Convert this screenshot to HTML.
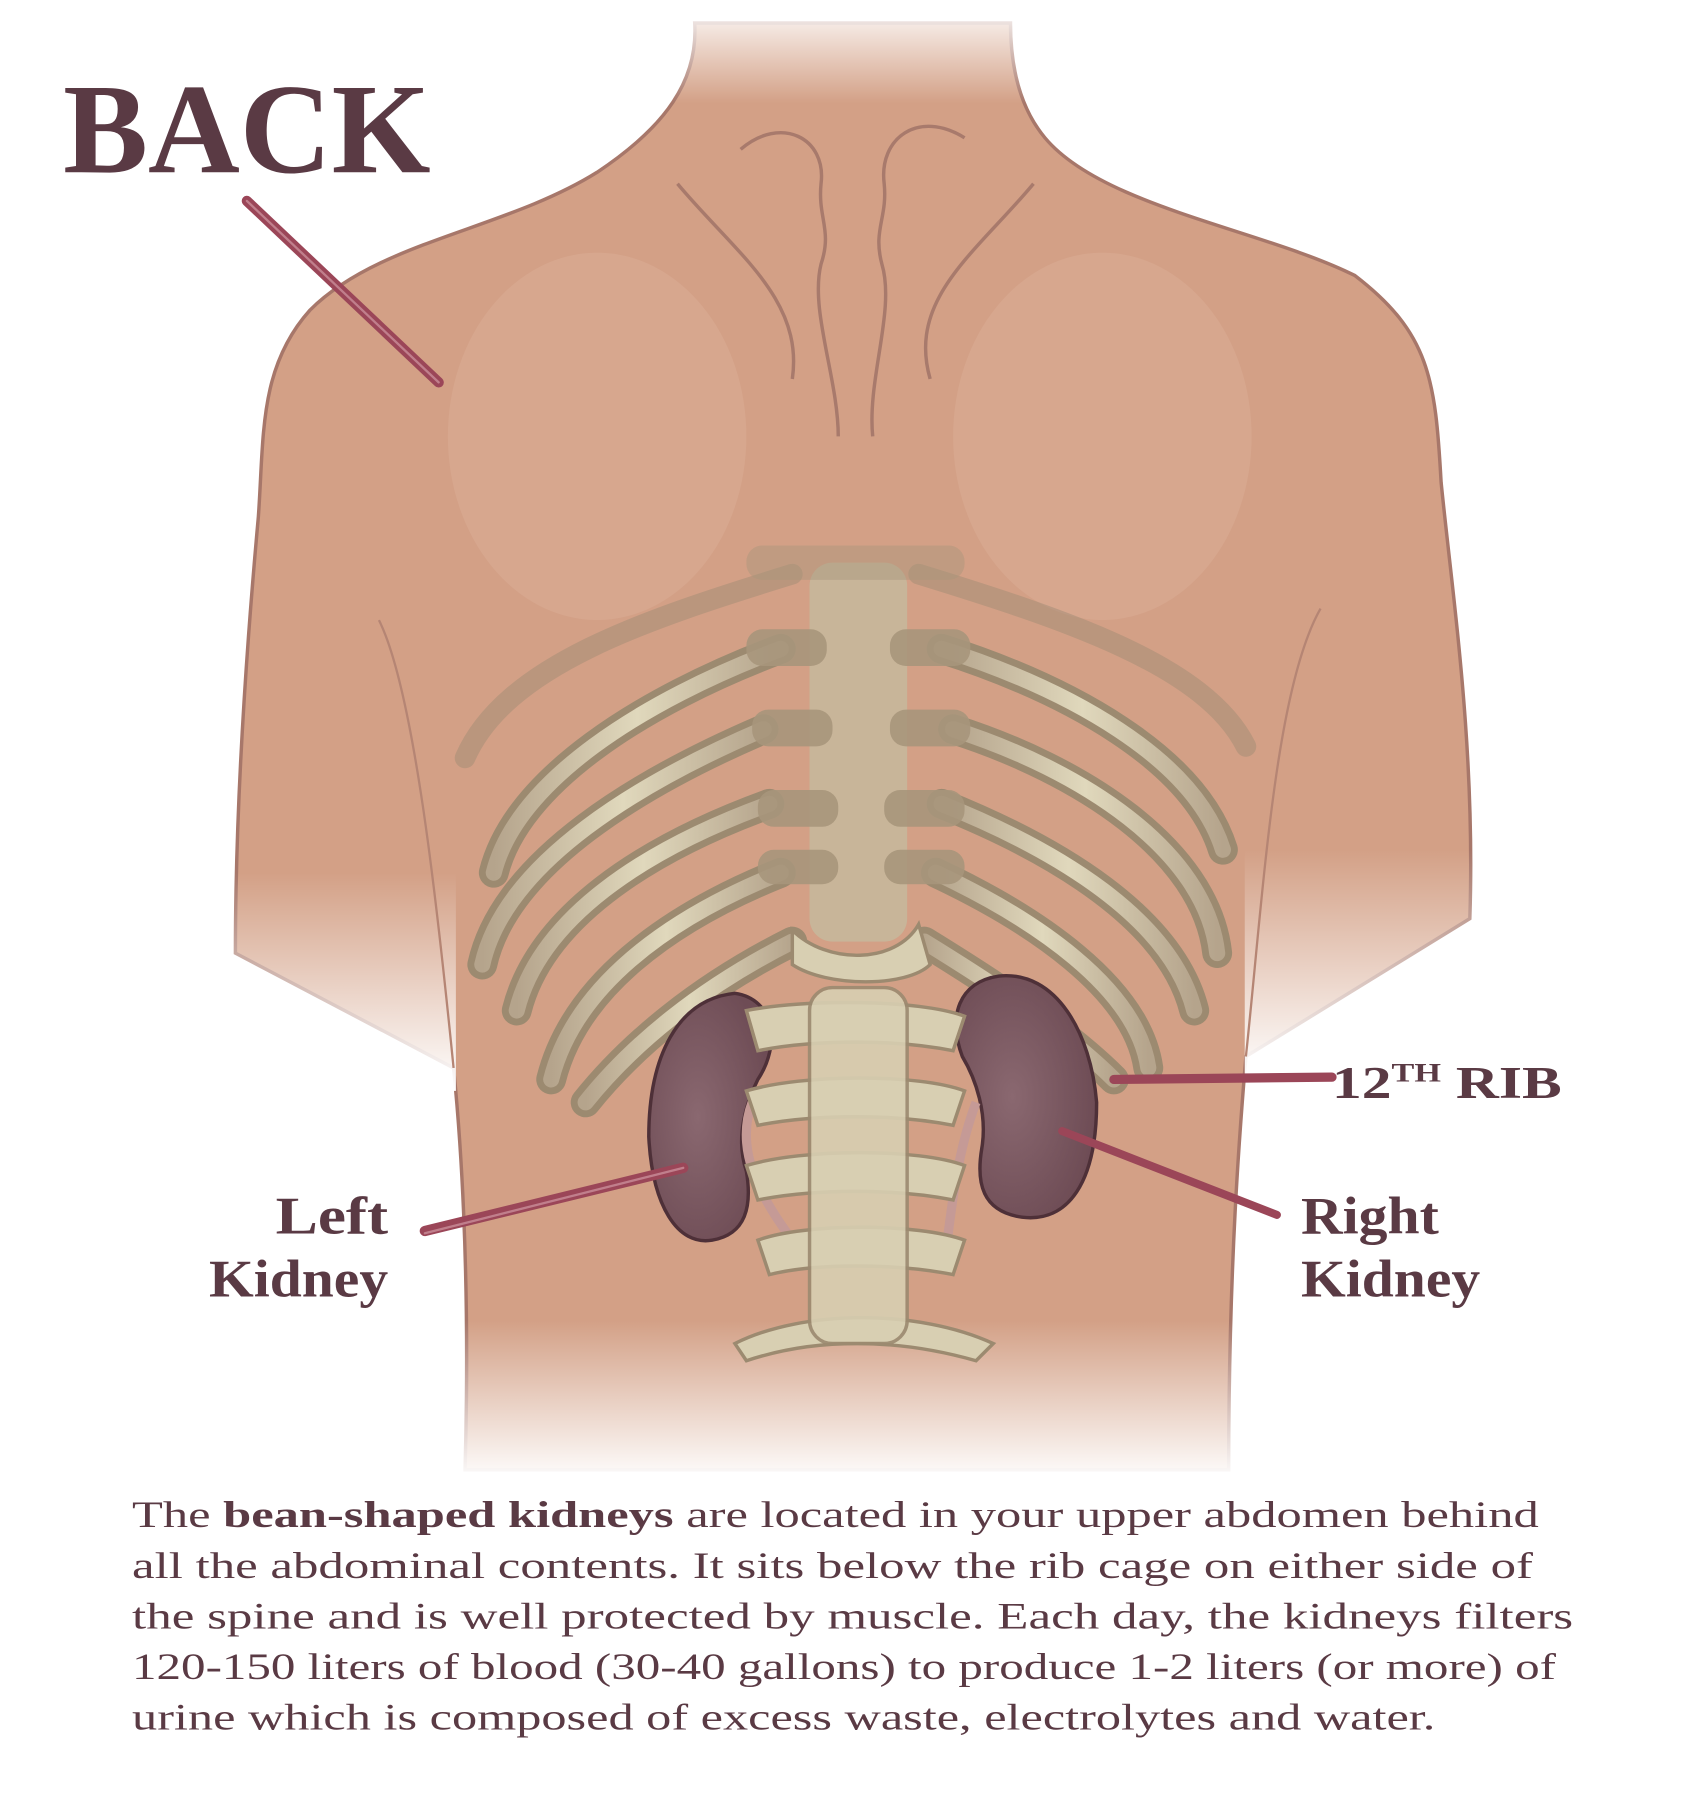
<!DOCTYPE html>
<html><head><meta charset="utf-8"><style>
html,body{margin:0;padding:0;background:#fff}
svg{display:block}
text{font-family:"Liberation Serif","DejaVu Serif",serif;fill:#5a3a44}
</style></head><body>
<svg width="1688" height="1804" viewBox="0 0 1470 1571" xmlns="http://www.w3.org/2000/svg">
<defs>
<linearGradient id="fadeTop" x1="0" y1="0" x2="0" y2="1">
<stop offset="0" stop-color="#fff" stop-opacity="1"/><stop offset="1" stop-color="#fff" stop-opacity="0"/></linearGradient>
<linearGradient id="fadeBot" x1="0" y1="0" x2="0" y2="1">
<stop offset="0" stop-color="#fff" stop-opacity="0"/><stop offset="1" stop-color="#fff" stop-opacity="1"/></linearGradient>
<radialGradient id="kid" cx="0.4" cy="0.5" r="0.6"><stop offset="0" stop-color="#8a6870"/><stop offset="1" stop-color="#6e4c55"/></radialGradient>
<linearGradient id="rib" x1="0" y1="0" x2="1" y2="0"><stop offset="0" stop-color="#b5a48c"/><stop offset="0.5" stop-color="#e0d8bc"/><stop offset="1" stop-color="#b5a48c"/></linearGradient>
</defs>
<path d="M605,20 C608,70 580,110 520,150 C440,200 330,210 270,270 C225,320 230,380 225,450 C215,560 205,700 205,830 L395,930 C400,980 410,1100 405,1280 L1070,1280 C1070,1100 1080,980 1085,920 L1280,800 C1285,650 1265,520 1255,420 C1250,330 1245,290 1180,240 C1100,200 960,180 910,120 C885,90 880,50 880,20 Z" fill="#d3a086" stroke="#a7776a" stroke-width="3"/>
<rect x="195" y="760" width="202" height="190" fill="url(#fadeBot)"/>
<rect x="1084" y="740" width="206" height="200" fill="url(#fadeBot)"/>
<path d="M395,930 C380,780 360,600 330,540" fill="none" stroke="#b58574" stroke-width="2"/>
<path d="M1085,920 C1100,780 1110,600 1150,530" fill="none" stroke="#b58574" stroke-width="2"/>
<ellipse cx="520" cy="380" rx="130" ry="160" fill="#dcae96" opacity="0.5"/>
<ellipse cx="960" cy="380" rx="130" ry="160" fill="#dcae96" opacity="0.5"/>
<g fill="none" stroke="#a87a6c" stroke-width="3">
<path d="M645,130 C680,100 720,120 715,160 C712,190 725,200 715,230 C705,270 730,330 730,380"/>
<path d="M840,120 C800,95 765,120 770,160 C773,190 760,200 768,230 C780,270 755,330 760,380"/>
<path d="M590,160 C640,220 700,260 690,330"/>
<path d="M900,160 C850,220 790,260 810,330"/>
</g>
<rect x="200" y="0" width="1100" height="90" fill="url(#fadeTop)"/>
<rect x="180" y="1150" width="1130" height="140" fill="url(#fadeBot)"/>
<g fill="none" stroke-linecap="round">
<g stroke="#9c8a74" stroke-width="18" opacity="0.45">
<path d="M690,500 C560,540 440,580 405,660"/>
<path d="M800,500 C930,540 1050,580 1085,650"/>
</g>
<g stroke="#9c8a70" stroke-width="26">
<path d="M680,565 C560,610 450,680 430,760"/><path d="M665,635 C560,680 440,750 420,840"/>
<path d="M670,700 C560,740 470,800 450,880"/><path d="M680,760 C580,800 500,860 480,940"/>
<path d="M690,820 C610,860 550,910 510,960"/>
<path d="M820,565 C930,600 1040,660 1065,740"/><path d="M830,635 C940,670 1050,740 1060,830"/>
<path d="M820,700 C920,740 1020,800 1040,880"/><path d="M815,760 C900,800 990,860 1000,930"/>
<path d="M805,820 C870,860 930,900 970,940"/>
</g>
<g stroke="url(#rib)" stroke-width="14">
<path d="M680,565 C560,610 450,680 430,760"/><path d="M665,635 C560,680 440,750 420,840"/>
<path d="M670,700 C560,740 470,800 450,880"/><path d="M680,760 C580,800 500,860 480,940"/>
<path d="M690,820 C610,860 550,910 510,960"/>
<path d="M820,565 C930,600 1040,660 1065,740"/><path d="M830,635 C940,670 1050,740 1060,830"/>
<path d="M820,700 C920,740 1020,800 1040,880"/><path d="M815,760 C900,800 990,860 1000,930"/>
<path d="M805,820 C870,860 930,900 970,940"/>
</g>
</g>
<path d="M640,865 C590,870 565,920 565,990 C568,1050 590,1085 620,1080 C650,1075 655,1050 650,1020 C640,990 650,960 660,940 C680,910 675,870 640,865 Z" fill="url(#kid)" stroke="#4e3038" stroke-width="3"/>
<path d="M870,850 C920,845 950,900 955,960 C955,1030 930,1065 890,1060 C855,1055 850,1030 855,1000 C860,970 850,940 838,920 C825,885 835,855 870,850 Z" fill="url(#kid)" stroke="#4e3038" stroke-width="3"/>
<path d="M655,960 C640,1000 660,1040 690,1080" fill="none" stroke="#c59a96" stroke-width="8"/>
<path d="M850,960 C835,1000 830,1040 825,1080" fill="none" stroke="#c59a96" stroke-width="8"/>
<rect x="705" y="490" width="85" height="330" rx="20" fill="#c6b89c" opacity="0.85"/>
<g fill="#a8967c" opacity="0.9">
<rect x="650" y="548" width="70" height="32" rx="14"/><rect x="775" y="548" width="70" height="32" rx="14"/>
<rect x="655" y="618" width="70" height="32" rx="14"/><rect x="775" y="618" width="70" height="32" rx="14"/>
<rect x="660" y="688" width="70" height="32" rx="14"/><rect x="770" y="688" width="70" height="32" rx="14"/>
<rect x="660" y="740" width="70" height="30" rx="14"/><rect x="770" y="740" width="70" height="30" rx="14"/>
<rect x="650" y="475" width="190" height="30" rx="14" opacity="0.5"/>
</g>
<g fill="#d8cfb2" stroke="#9c8a70" stroke-width="3">
<path d="M690,810 C720,840 780,840 800,805 L810,840 C790,860 720,860 690,840 Z"/>
<path d="M650,880 C700,870 800,870 840,885 L830,915 C780,905 710,905 660,915 Z"/>
<path d="M650,950 C700,935 800,935 840,950 L830,980 C780,970 710,970 660,980 Z"/>
<path d="M650,1015 C700,1000 800,1000 840,1015 L830,1045 C780,1035 710,1035 660,1045 Z"/>
<path d="M660,1080 C700,1065 800,1065 840,1080 L830,1110 C780,1100 710,1100 670,1110 Z"/>
<path d="M640,1170 C700,1140 800,1140 865,1170 L850,1185 C780,1165 710,1165 650,1185 Z"/>
<rect x="705" y="860" width="85" height="310" rx="20" fill="#d8cfb2" opacity="0.9"/>
</g>
<g stroke="#9b4658" fill="none" stroke-linecap="round">
<path d="M215,175 L382,333" stroke-width="9"/><path d="M215,175 L382,333" stroke="#c07f8c" stroke-width="2"/>
<path d="M370,1072 L595,1017" stroke-width="9"/><path d="M370,1074 L595,1017" stroke="#c07f8c" stroke-width="2"/>
<path d="M970,940 L1160,938" stroke-width="8"/>
<path d="M925,985 L1112,1058" stroke-width="7"/>
</g>
<text x="55" y="150" font-size="112" font-weight="bold" textLength="320" lengthAdjust="spacingAndGlyphs">BACK</text>
<text x="1160" y="956" font-size="40" font-weight="bold" textLength="200" lengthAdjust="spacingAndGlyphs">12<tspan font-size="23" dy="-14">TH</tspan><tspan dy="14"> RIB</tspan></text>
<text x="240" y="1074" font-size="46" font-weight="bold" textLength="98" lengthAdjust="spacingAndGlyphs">Left</text>
<text x="182" y="1129" font-size="46" font-weight="bold" textLength="156" lengthAdjust="spacingAndGlyphs">Kidney</text>
<text x="1133" y="1074" font-size="46" font-weight="bold" textLength="120" lengthAdjust="spacingAndGlyphs">Right</text>
<text x="1133" y="1129" font-size="46" font-weight="bold" textLength="156" lengthAdjust="spacingAndGlyphs">Kidney</text>
<g font-size="32">
<text x="115" y="1330" textLength="1225" lengthAdjust="spacingAndGlyphs">The <tspan font-weight="bold">bean-shaped kidneys</tspan> are located in your upper abdomen behind</text>
<text x="115" y="1374" textLength="1220" lengthAdjust="spacingAndGlyphs">all the abdominal contents. It sits below the rib cage on either side of</text>
<text x="115" y="1418" textLength="1255" lengthAdjust="spacingAndGlyphs">the spine and is well protected by muscle.  Each day, the kidneys filters</text>
<text x="115" y="1462" textLength="1240" lengthAdjust="spacingAndGlyphs">120-150 liters of blood (30-40 gallons) to produce 1-2 liters (or more) of</text>
<text x="115" y="1506" textLength="1135" lengthAdjust="spacingAndGlyphs">urine which is composed of excess waste, electrolytes and water.</text>
</g>
</svg>
</body></html>
